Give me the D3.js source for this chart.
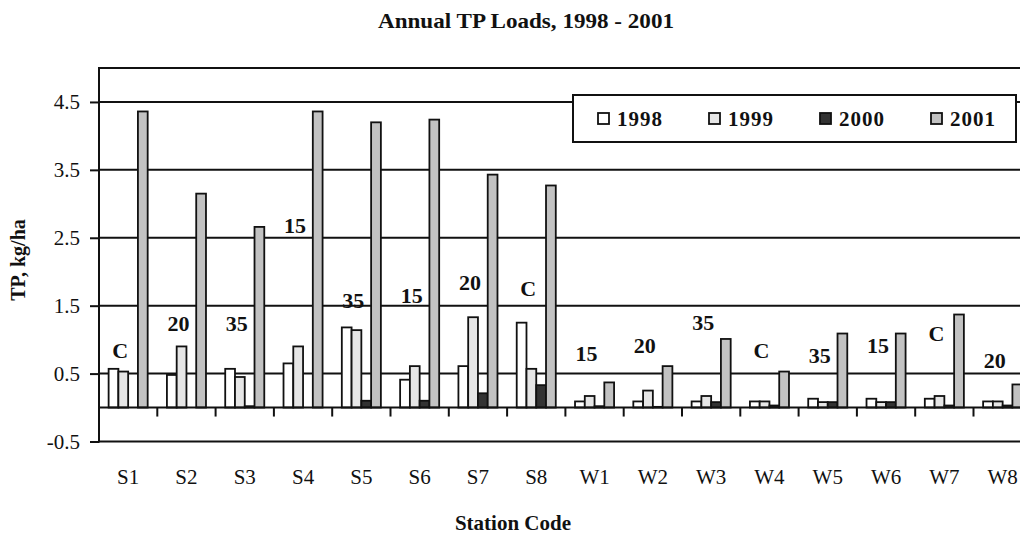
<!DOCTYPE html>
<html><head><meta charset="utf-8">
<script src="https://cdn.jsdelivr.net/npm/d3@7"></script>
<style>
html,body{margin:0;padding:0;background:#fff;}
svg text{font-family:"Liberation Serif","Times New Roman",serif;fill:#111;}
</style></head>
<body>
<svg id="chart" width="1020" height="535"></svg>
<script>
const stations = ["S1","S2","S3","S4","S5","S6","S7","S8","W1","W2","W3","W4","W5","W6","W7","W8"];
const years = ["1998","1999","2000","2001"];
const tp1998 = [0.57,0.48,0.57,0.65,1.18,0.41,0.61,1.25,0.09,0.09,0.09,0.09,0.13,0.13,0.13,0.09];
const tp1999 = [0.53,0.90,0.45,0.90,1.14,0.61,1.33,0.57,0.17,0.25,0.17,0.09,0.08,0.08,0.17,0.09];
const tp2000 = [0.00,0.00,0.02,0.00,0.10,0.10,0.21,0.33,0.02,0.01,0.08,0.03,0.08,0.08,0.03,0.03];
const tp2001 = [4.36,3.15,2.66,4.36,4.20,4.24,3.43,3.27,0.37,0.61,1.01,0.53,1.09,1.09,1.37,0.34];
const noteText = ["C","20","35","15","35","15","20","C","15","20","35","C","35","15","C","20"];
const noteLevel = [0.84,1.24,1.24,2.69,1.58,1.65,1.85,1.76,0.80,0.91,1.25,0.84,0.77,0.91,1.09,0.69];
const yTicks = [-0.5,0.5,1.5,2.5,3.5,4.5];
const seriesColors = {"1998":"#ffffff","1999":"#e6e6e6","2000":"#333333","2001":"#c2c2c2"};

const series = {"1998":tp1998,"1999":tp1999,"2000":tp2000,"2001":tp2001};
const svg = d3.select("#chart");
const mLeft = 99, mTop = 68, mBottom = 441.5, step = 58.3;

const y = d3.scaleLinear().domain([-0.5, 5.0]).range([mBottom, mTop]);
const x0 = d3.scaleBand().domain(stations).range([mLeft, mLeft + step*stations.length]).padding(0);
const bw = x0.bandwidth();
const x1 = d3.scaleBand().domain(years).range([bw*0.165, bw*0.835]).padding(0);

// title
svg.append("text").attr("x", 526).attr("y", 28).attr("text-anchor","middle")
  .attr("font-size", 21).attr("font-weight","bold")
  .attr("textLength", 296).attr("lengthAdjust","spacingAndGlyphs")
  .text("Annual TP Loads, 1998 - 2001");

// gridlines
const g = svg.append("g");
g.selectAll("line.grid").data(yTicks).join("line")
  .attr("x1", mLeft).attr("x2", 1020).attr("y1", d=>y(d)).attr("y2", d=>y(d))
  .attr("stroke","#111").attr("stroke-width",2);
g.append("line").attr("x1", mLeft).attr("x2", 1020).attr("y1", y(5)).attr("y2", y(5))
  .attr("stroke","#111").attr("stroke-width",2);

// y axis
const yAxis = d3.axisLeft(y).tickValues(yTicks).tickSize(9).tickPadding(10)
  .tickFormat(d => d.toFixed(1));
const ya = svg.append("g").attr("transform", `translate(${mLeft},0)`).call(yAxis);
ya.select(".domain").remove();
ya.selectAll(".tick line").attr("stroke","#111").attr("stroke-width",2);
ya.selectAll(".tick text").attr("font-size", 21).attr("fill","#111");
svg.append("line").attr("x1",mLeft).attr("x2",mLeft).attr("y1",y(5)-1).attr("y2",mBottom+1)
  .attr("stroke","#111").attr("stroke-width",2);

// bars
const groups = svg.append("g").selectAll("g").data(stations).join("g")
  .attr("transform", d=>`translate(${x0(d)},0)`);
groups.selectAll("rect").data((d,i)=>years.map(yr=>({yr, v: series[yr][i]}))).join("rect")
  .attr("x", d=>x1(d.yr)).attr("width", x1.bandwidth())
  .attr("y", d=>y(Math.max(0,d.v))).attr("height", d=>Math.abs(y(d.v)-y(0)))
  .attr("fill", d=>seriesColors[d.yr]).attr("stroke","#111").attr("stroke-width",1.8);

// x axis at zero
const xAxis = d3.axisBottom(x0).tickSize(0).tickPadding(62);
const xa = svg.append("g").attr("transform", `translate(0,${y(0)})`).call(xAxis);
xa.select(".domain").remove();
xa.selectAll(".tick text").attr("font-size", 21).attr("fill","#111");
svg.append("line").attr("x1",mLeft).attr("x2",1020).attr("y1",y(0)).attr("y2",y(0))
  .attr("stroke","#111").attr("stroke-width",2);
svg.append("g").selectAll("line").data(stations.slice(1)).join("line")
  .attr("x1", d=>x0(d)).attr("x2", d=>x0(d)).attr("y1", y(0)).attr("y2", y(0)+9)
  .attr("stroke","#111").attr("stroke-width",2);

// notes
svg.append("g").selectAll("text").data(stations).join("text")
  .attr("x", d=>x0(d)+bw/2-8).attr("y", (d,i)=>y(noteLevel[i]))
  .attr("dy","0.35em").attr("text-anchor","middle")
  .attr("font-size", 22).attr("font-weight","bold").text((d,i)=>noteText[i]);

// axis titles
svg.append("text").attr("transform","translate(25,260) rotate(-90)").attr("text-anchor","middle")
  .attr("font-size",20).attr("font-weight","bold").text("TP, kg/ha");
svg.append("text").attr("x",513).attr("y",530).attr("text-anchor","middle")
  .attr("font-size",21).attr("font-weight","bold").text("Station Code");

// legend
const lg = svg.append("g");
lg.append("rect").attr("x",573).attr("y",95).attr("width",443).attr("height",47)
  .attr("fill","#fff").attr("stroke","#111").attr("stroke-width",2);
const li = lg.selectAll("g").data(years).join("g")
  .attr("transform",(d,i)=>`translate(${598 + i*111},118.5)`);
li.append("rect").attr("x",0).attr("y",-5.5).attr("width",11).attr("height",11)
  .attr("fill",d=>seriesColors[d]).attr("stroke","#111").attr("stroke-width",1.8);
li.append("text").attr("x",19).attr("y",0).attr("dy","0.35em").attr("font-size",21)
  .attr("font-weight","bold").attr("letter-spacing",1).text(d=>d);
</script>
</body></html>
